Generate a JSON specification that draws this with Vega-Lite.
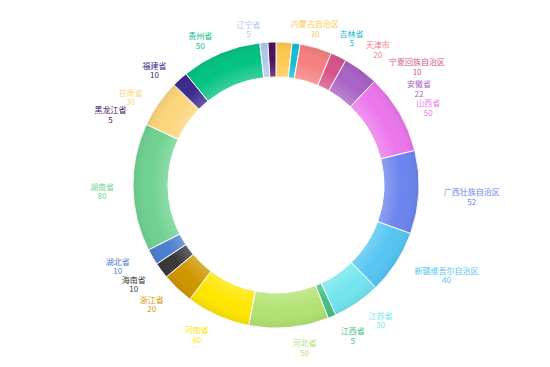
{
  "$schema": "https://vega.github.io/schema/vega-lite/v6.json",
  "width": 548,
  "height": 364,
  "autosize": {"type": "none"},
  "padding": {"left": 2, "top": 3, "right": 0, "bottom": 0},
  "background": "#ffffff",
  "config": {"view": {"stroke": null}, "text": {"font": "Noto Sans CJK SC"}},
  "data": {
    "values": [
      {"name": "内蒙古自治区", "value": 10},
      {"name": "吉林省", "value": 5},
      {"name": "天津市", "value": 20},
      {"name": "宁夏回族自治区", "value": 10},
      {"name": "安徽省", "value": 22},
      {"name": "山西省", "value": 50},
      {"name": "广西壮族自治区", "value": 52},
      {"name": "新疆维吾尔自治区", "value": 40},
      {"name": "江苏省", "value": 30},
      {"name": "江西省", "value": 5},
      {"name": "河北省", "value": 50},
      {"name": "河南省", "value": 40},
      {"name": "浙江省", "value": 20},
      {"name": "海南省", "value": 10},
      {"name": "湖北省", "value": 10},
      {"name": "湖南省", "value": 80},
      {"name": "甘肃省", "value": 30},
      {"name": "福建省", "value": 10},
      {"name": "贵州省", "value": 50},
      {"name": "辽宁省", "value": 5},
      {"name": "黑龙江省", "value": 5}
    ]
  },
  "layer": [
    {
      "transform": [
        {"calculate": "datum.name + '\\n' + datum.value", "as": "label"}
      ],
      "encoding": {
        "theta": {"field": "value", "type": "quantitative", "stack": true},
        "order": {"field": "name", "sort": "ascending"},
        "color": {
          "field": "name",
          "type": "nominal",
          "legend": null,
          "scale": {
            "domain": ["内蒙古自治区", "吉林省", "天津市", "宁夏回族自治区", "安徽省", "山西省", "广西壮族自治区", "新疆维吾尔自治区", "江苏省", "江西省", "河北省", "河南省", "浙江省", "海南省", "湖北省", "湖南省", "甘肃省", "福建省", "贵州省", "辽宁省", "黑龙江省"],
            "range": ["#FFC850", "#12BDD3", "#F58080", "#D8538A", "#A862C4", "#EC76EC", "#6C84EE", "#55C5F3", "#73E5EE", "#40C080", "#B2E272", "#FFE600", "#CF9600", "#383838", "#4A7ED0", "#6ED290", "#FDD57A", "#3C2A8C", "#02C381", "#B0C8EE", "#4B0F5B"]
          }
        }
      },
      "layer": [
        {
          "mark": {"type": "arc", "radius": 143, "radius2": 108, "stroke": "#ffffff", "strokeWidth": 1}
        },
        {
          "mark": {"type": "text", "radius": 160, "dx": 14, "fontSize": 8, "lineHeight": 9.5, "lineBreak": "\n", "align": "center", "baseline": "middle"},
          "encoding": {"text": {"condition": {"test": "indexof(['山西省','江苏省','江西省','河北省'], datum.name) >= 0", "field": "label"}, "value": ""}}
        },
        {
          "mark": {"type": "text", "radius": 160, "dx": -14, "fontSize": 8, "lineHeight": 9.5, "lineBreak": "\n", "align": "center", "baseline": "middle"},
          "encoding": {"text": {"condition": {"test": "indexof(['河南省','浙江省','海南省','湖南省','甘肃省','福建省','贵州省','辽宁省'], datum.name) >= 0", "field": "label"}, "value": ""}}
        },
        {
          "mark": {"type": "text", "radius": 160, "dx": -20, "dy": -3, "fontSize": 8, "lineHeight": 9.5, "lineBreak": "\n", "align": "center", "baseline": "middle"},
          "encoding": {"text": {"condition": {"test": "datum.name === '湖北省'", "field": "label"}, "value": ""}}
        },
        {
          "mark": {"type": "text", "radius": 160, "dx": 36, "fontSize": 8, "lineHeight": 9.5, "lineBreak": "\n", "align": "center", "baseline": "middle"},
          "encoding": {"text": {"condition": {"test": "indexof(['广西壮族自治区','新疆维吾尔自治区'], datum.name) >= 0", "field": "label"}, "value": ""}}
        },
        {
          "mark": {"type": "text", "radius": 160, "dx": 30, "fontSize": 8, "lineHeight": 9.5, "lineBreak": "\n", "align": "center", "baseline": "middle"},
          "encoding": {"text": {"condition": {"test": "datum.name === '内蒙古自治区'", "field": "label"}, "value": ""}}
        },
        {
          "mark": {"type": "text", "radius": 160, "dx": 53, "dy": 8, "fontSize": 8, "lineHeight": 9.5, "lineBreak": "\n", "align": "center", "baseline": "middle"},
          "encoding": {"text": {"condition": {"test": "datum.name === '吉林省'", "field": "label"}, "value": ""}}
        },
        {
          "mark": {"type": "text", "radius": 160, "dx": 57, "dy": 15, "fontSize": 8, "lineHeight": 9.5, "lineBreak": "\n", "align": "center", "baseline": "middle"},
          "encoding": {"text": {"condition": {"test": "datum.name === '天津市'", "field": "label"}, "value": ""}}
        },
        {
          "mark": {"type": "text", "radius": 160, "dx": 71, "dy": 22, "fontSize": 8, "lineHeight": 9.5, "lineBreak": "\n", "align": "center", "baseline": "middle"},
          "encoding": {"text": {"condition": {"test": "datum.name === '宁夏回族自治区'", "field": "label"}, "value": ""}}
        },
        {
          "mark": {"type": "text", "radius": 160, "dx": 48, "dy": 29, "fontSize": 8, "lineHeight": 9.5, "lineBreak": "\n", "align": "center", "baseline": "middle"},
          "encoding": {"text": {"condition": {"test": "datum.name === '安徽省'", "field": "label"}, "value": ""}}
        },
        {
          "mark": {"type": "text", "radius": 160, "dx": -161, "dy": 86, "fontSize": 8, "lineHeight": 9.5, "lineBreak": "\n", "align": "center", "baseline": "middle"},
          "encoding": {"text": {"condition": {"test": "datum.name === '黑龙江省'", "field": "label"}, "value": ""}}
        }
      ]
    },
    {
      "transform": [{"aggregate": [{"op": "count", "as": "n"}]}],
      "mark": {
        "type": "arc",
        "radius": 143,
        "radius2": 108,
        "theta": 0,
        "theta2": 6.2832,
        "fill": {
          "gradient": "radial",
          "x1": 0.5, "y1": 0.5, "r1": 0.378,
          "x2": 0.5, "y2": 0.5, "r2": 0.5,
          "stops": [
            {"offset": 0, "color": "rgba(255,255,255,0.22)"},
            {"offset": 0.5, "color": "rgba(255,255,255,0)"},
            {"offset": 1, "color": "rgba(0,0,0,0.07)"}
          ]
        }
      },
      "encoding": {}
    }
  ]
}
